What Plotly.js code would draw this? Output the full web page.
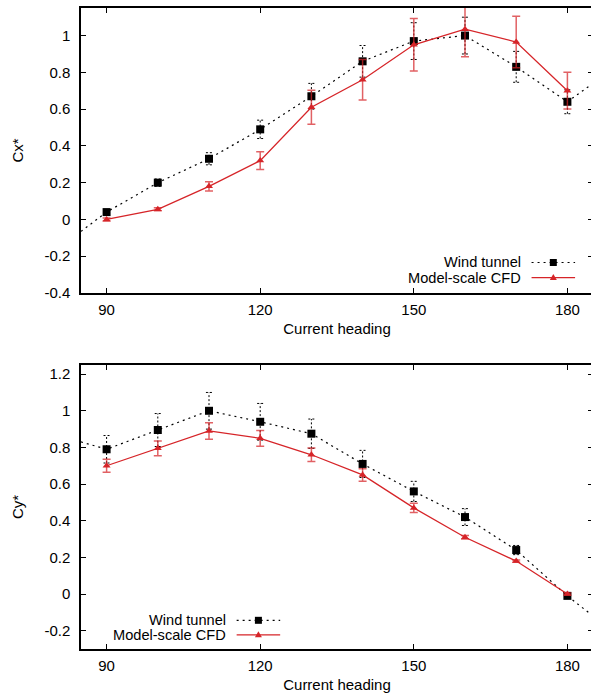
<!DOCTYPE html>
<html>
<head>
<meta charset="utf-8">
<script src="https://cdn.plot.ly/plotly-3.0.1.min.js"></script>
<style>
  html, body { margin: 0; padding: 0; background: #fff; overflow: hidden; }
  #chart { width: 595px; height: 700px; }
</style>
</head>
<body>
<div id="chart"></div>
<script>
// Current headings (degrees)
const heading = [90, 100, 110, 120, 130, 140, 150, 160, 170, 180];

// Longitudinal force coefficient Cx*
const windCx    = [0.04, 0.20, 0.33, 0.49, 0.67, 0.86, 0.97, 1.00, 0.83, 0.64];
const windCxErr = [0.01, 0.02, 0.033, 0.05, 0.07, 0.086, 0.10, 0.10, 0.084, 0.065];
const cfdCx     = [0.00, 0.055, 0.18, 0.32, 0.61, 0.76, 0.95, 1.035, 0.965, 0.70];
const cfdCxErr  = [0.008, 0.008, 0.025, 0.048, 0.092, 0.11, 0.143, 0.15, 0.14, 0.10];

// Wind tunnel fit curve for Cx*, running across the full axis
const windCxFitX = [85, 90, 100, 110, 120, 130, 140, 150, 160, 170, 180, 185];
const windCxFit  = [-0.065, 0.04, 0.20, 0.33, 0.49, 0.67, 0.86, 0.97, 1.00, 0.83, 0.64, 0.74];

// Transverse force coefficient Cy*
const windCy    = [0.79, 0.895, 1.00, 0.94, 0.875, 0.71, 0.56, 0.42, 0.24, -0.01];
const windCyErr = [0.075, 0.09, 0.10, 0.10, 0.08, 0.074, 0.055, 0.046, 0.025, 0.01];
const cfdCy     = [0.70, 0.795, 0.89, 0.85, 0.76, 0.65, 0.47, 0.31, 0.18, 0.00];
const cfdCyErr  = [0.036, 0.04, 0.045, 0.043, 0.037, 0.034, 0.025, 0.01, 0.006, 0.005];

// Wind tunnel fit curve for Cy*
const windCyFitX = [85, 90, 100, 110, 120, 130, 140, 150, 160, 170, 180, 185];
const windCyFit  = [0.83, 0.79, 0.895, 1.00, 0.94, 0.875, 0.71, 0.56, 0.42, 0.24, -0.01, -0.12];

// Tick labels
const xTickVals = [90, 120, 150, 180];
const xTickText = ['90', '120', '150', '180'];
const cxTickVals = [-0.4, -0.2, 0, 0.2, 0.4, 0.6, 0.8, 1];
const cxTickText = ['-0.4', '-0.2', '0', '0.2', '0.4', '0.6', '0.8', '1'];
const cyTickVals = [-0.2, 0, 0.2, 0.4, 0.6, 0.8, 1, 1.2];
const cyTickText = ['-0.2', '0', '0.2', '0.4', '0.6', '0.8', '1', '1.2'];

const seriesNames = ['Wind tunnel', 'Model-scale CFD'];

const RED = 'rgb(214,36,40)';
const RED_ERR = 'rgba(214,36,40,0.72)';
const FONT = 'Liberation Sans, Arial, Helvetica, sans-serif';

// Dotted error bars with caps for the wind tunnel series
function dottedErrors(xs, ys, es, capHalf) {
  const ex = [], ey = [];
  xs.forEach((x, i) => {
    const lo = ys[i] - es[i], hi = ys[i] + es[i];
    ex.push(x, x, null, x - capHalf, x + capHalf, null, x - capHalf, x + capHalf, null);
    ey.push(lo, hi, null, hi, hi, null, lo, lo, null);
  });
  return { ex, ey };
}

function panelTraces(xa, ya, fitX, fit, wind, windErr, cfd, cfdErr) {
  const err = dottedErrors(heading, wind, windErr, 0.6);
  return [
    { x: fitX, y: fit, xaxis: xa, yaxis: ya, type: 'scatter', mode: 'lines',
      line: { color: '#000', width: 1.2, dash: '2px,4px' }, hoverinfo: 'skip', showlegend: false },
    { x: err.ex, y: err.ey, xaxis: xa, yaxis: ya, type: 'scatter', mode: 'lines',
      line: { color: '#000', width: 1, dash: '2px,2px' }, hoverinfo: 'skip', showlegend: false },
    { x: heading, y: wind, xaxis: xa, yaxis: ya, type: 'scatter', mode: 'markers', name: seriesNames[0],
      marker: { symbol: 'square', size: 8, color: '#000' }, showlegend: false },
    { x: heading, y: cfd, xaxis: xa, yaxis: ya, type: 'scatter', mode: 'lines+markers', name: seriesNames[1],
      line: { color: RED, width: 1.3 },
      marker: { symbol: 'triangle-up', size: 7, color: RED },
      error_y: { type: 'data', array: cfdErr, visible: true, color: RED_ERR, thickness: 1.5, width: 4 },
      showlegend: false }
  ];
}

const data = [
  ...panelTraces('x', 'y', windCxFitX, windCxFit, windCx, windCxErr, cfdCx, cfdCxErr),
  ...panelTraces('x2', 'y2', windCyFitX, windCyFit, windCy, windCyErr, cfdCy, cfdCyErr)
];

function xAxis(anchor) {
  return {
    anchor: anchor, range: [85, 185], domain: [0, 1],
    tickvals: xTickVals, ticktext: xTickText,
    ticks: 'inside', ticklen: 5, tickwidth: 1, tickcolor: '#000',
    ticklabelstandoff: 2,
    showline: true, linecolor: '#000', linewidth: 1.6, mirror: 'allticks',
    showgrid: false, zeroline: false,
    tickfont: { family: FONT, size: 15, color: '#000' },
    title: { text: 'Current heading', font: { family: FONT, size: 15, color: '#000' }, standoff: 7 }
  };
}
function yAxis(anchor, domain, range, vals, text, label) {
  return {
    anchor: anchor, domain: domain, range: range,
    tickvals: vals, ticktext: text,
    ticks: 'inside', ticklen: 5, tickwidth: 1, tickcolor: '#000',
    ticklabelstandoff: 6,
    showline: true, linecolor: '#000', linewidth: 1.6, mirror: 'allticks',
    showgrid: false, zeroline: false,
    tickfont: { family: FONT, size: 15, color: '#000' },
    title: { text: label, font: { family: FONT, size: 15, color: '#000' }, standoff: 17 }
  };
}

// Legend drawn as text on the left with line/marker keys on the right
function legendItems(xa, ya, textX, keyX0, keyX1, rowY) {
  const xref = xa + ' domain', yref = ya + ' domain';
  const keyMid = (keyX0 + keyX1) / 2;
  const ann = seriesNames.map((name, i) => ({
    xref, yref, x: textX, y: rowY[i], xanchor: 'right', yanchor: 'middle',
    text: name, showarrow: false, font: { family: FONT, size: 14.6, color: '#000' }
  }));
  const shp = [
    { type: 'line', xref, yref, x0: keyX0, x1: keyX1, y0: rowY[0], y1: rowY[0],
      line: { color: '#000', width: 1.2, dash: '2px,4px' } },
    { type: 'rect', xref, yref, xsizemode: 'pixel', ysizemode: 'pixel',
      xanchor: keyMid, yanchor: rowY[0], x0: -3.5, x1: 3.5, y0: -3.5, y1: 3.5,
      fillcolor: '#000', line: { width: 0 } },
    { type: 'line', xref, yref, x0: keyX0, x1: keyX1, y0: rowY[1], y1: rowY[1],
      line: { color: RED, width: 1.3 } },
    { type: 'path', xref, yref, xsizemode: 'pixel', ysizemode: 'pixel',
      xanchor: keyMid, yanchor: rowY[1], path: 'M-3.5,-2.5 L3.5,-2.5 L0,3.5 Z',
      fillcolor: RED, line: { width: 0 } }
  ];
  return { ann, shp };
}

const legTop = legendItems('x', 'y', 0.863, 0.880, 0.965, [0.107, 0.054]);
const legBot = legendItems('x2', 'y2', 0.287, 0.304, 0.389, [0.101, 0.050]);

const layout = {
  width: 595, height: 700,
  margin: { l: 81, r: 2, t: 8, b: 51 },
  paper_bgcolor: '#fff', plot_bgcolor: '#fff',
  showlegend: false,
  font: { family: FONT, size: 15, color: '#000' },
  xaxis: xAxis('y'),
  yaxis: yAxis('x', [0.5554, 1], [-0.4, 1.15], cxTickVals, cxTickText, 'Cx*'),
  xaxis2: xAxis('y2'),
  yaxis2: yAxis('x2', [0, 0.4431], [-0.3, 1.25], cyTickVals, cyTickText, 'Cy*'),
  annotations: [...legTop.ann, ...legBot.ann],
  shapes: [...legTop.shp, ...legBot.shp]
};

Plotly.newPlot('chart', data, layout, { displayModeBar: false, staticPlot: true });
</script>
</body>
</html>
